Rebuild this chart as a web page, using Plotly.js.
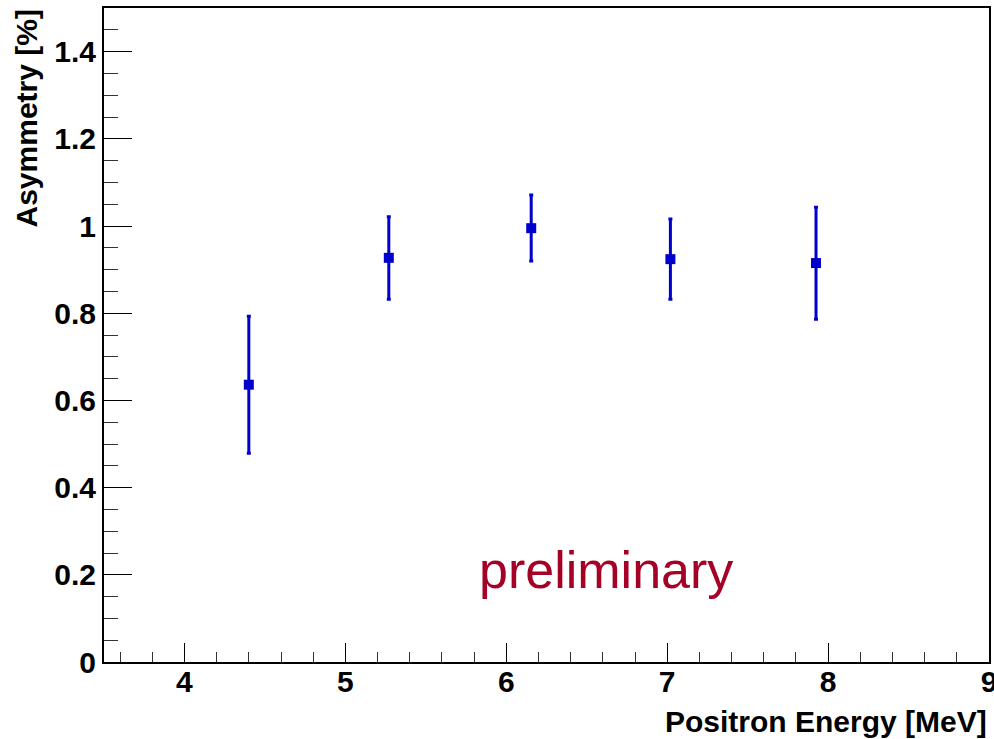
<!DOCTYPE html>
<html>
<head>
<meta charset="utf-8">
<script src="https://cdn.plot.ly/plotly-3.0.1.min.js"></script>
<style>html,body{margin:0;padding:0;background:#fff;}#chart{width:994px;height:739px;}</style>
</head>
<body>
<div id="chart"></div>
<script>
const energy = [4.40, 5.27, 6.155, 7.02, 7.925];
const asymmetry = [0.636, 0.927, 0.995, 0.924, 0.915];
const errPlus = [0.157, 0.094, 0.076, 0.092, 0.128];
const errMinus = [0.157, 0.095, 0.075, 0.092, 0.129];
const xTicks = [4, 5, 6, 7, 8, 9];
const yTicks = [0, 0.2, 0.4, 0.6, 0.8, 1, 1.2, 1.4];
const yTickText = ["0", "0.2", "0.4", "0.6", "0.8", "1", "1.2", "1.4"];

const font = "Liberation Sans, Arial, Helvetica, sans-serif";
const trace = {
  x: energy, y: asymmetry, type: 'scatter', mode: 'markers',
  marker: {symbol: 'square', size: 10, color: '#0000cc'},
  error_y: {type: 'data', symmetric: false, array: errPlus, arrayminus: errMinus,
            color: '#0000cc', thickness: 3, width: 2},
  hoverinfo: 'x+y'
};
const layout = {
  width: 994, height: 739,
  margin: {l: 104, r: 5, t: 8, b: 77},
  paper_bgcolor: '#fff', plot_bgcolor: '#fff',
  showlegend: false,
  xaxis: {
    range: [3.5, 9], tickvals: xTicks, ticktext: xTicks.map(String),
    ticks: 'inside', ticklen: 19, tickwidth: 1, tickcolor: '#000',
    minor: {dtick: 0.2, tick0: 0, ticks: 'inside', ticklen: 10, tickwidth: 1, tickcolor: '#333', showgrid: false},
    showline: true, linewidth: 2, linecolor: '#000', mirror: true,
    showgrid: false, zeroline: false,
    ticklabeloverflow: 'allow', ticklabelstandoff: -8,
    tickfont: {family: font, size: 30, color: '#000', weight: 'bold'}
  },
  yaxis: {
    range: [0, 1.5], tickvals: yTicks, ticktext: yTickText,
    ticks: 'inside', ticklen: 28, tickwidth: 1, tickcolor: '#000',
    minor: {dtick: 0.05, tick0: 0, ticks: 'inside', ticklen: 14, tickwidth: 1, tickcolor: '#333', showgrid: false},
    showline: true, linewidth: 2, linecolor: '#000', mirror: true,
    showgrid: false, zeroline: false,
    ticklabeloverflow: 'allow',
    tickfont: {family: font, size: 30, color: '#000', weight: 'bold'}
  },
  annotations: [
    {text: 'preliminary', xref: 'paper', yref: 'paper', x: 0.421, y: 0.14,
     xanchor: 'left', yanchor: 'middle', showarrow: false,
     font: {family: font, size: 52, color: '#a50026'}},
    {text: '<b>Positron Energy [MeV]</b>', xref: 'paper', yref: 'paper', x: 1.0, y: 0,
     xanchor: 'right', yanchor: 'top', yshift: -41, showarrow: false,
     font: {family: font, size: 30, color: '#000'}},
    {text: '<b>Asymmetry [%]</b>', xref: 'paper', yref: 'paper', x: 0, y: 1.0,
     xanchor: 'right', yanchor: 'top', xshift: -60, showarrow: false, textangle: -90,
     font: {family: font, size: 30, color: '#000'}}
  ]
};
Plotly.newPlot('chart', [trace], layout, {displayModeBar: false, staticPlot: true});
</script>
</body>
</html>
